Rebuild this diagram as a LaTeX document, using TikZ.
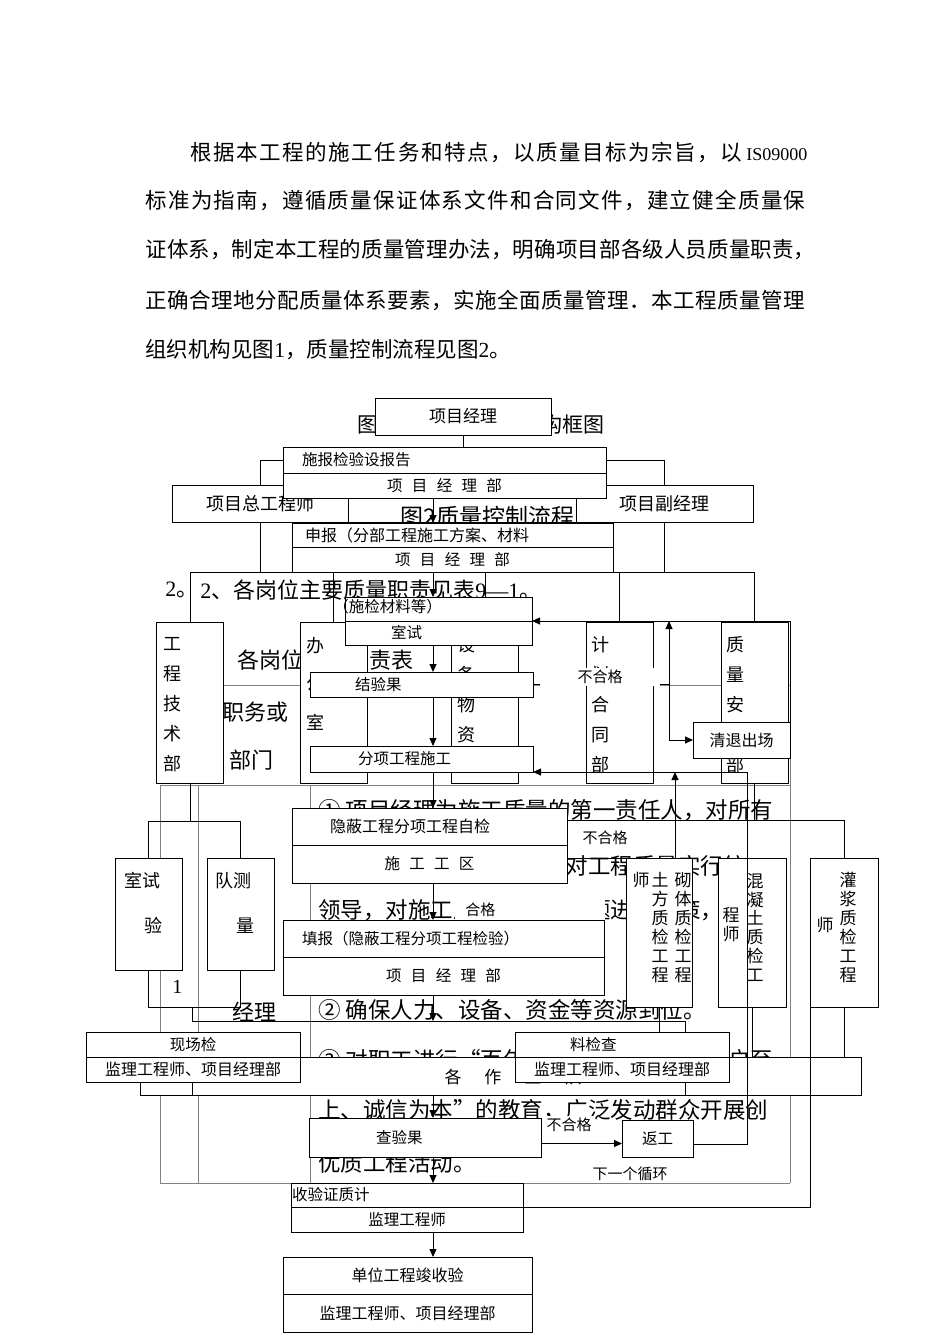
\documentclass[tikz,border=0pt]{standalone}
\usepackage{fontspec}
\setmainfont{Noto Sans CJK SC}
\newfontfamily\rmlat{Liberation Serif}
\usetikzlibrary{arrows.meta, positioning}
\ExplSyntaxOn
\NewDocumentCommand \spreadto { m m }
  { \hbox_to_wd:nn {#1} { \tl_map_inline:nn {#2} { ##1 \hfil } \unskip } }
\ExplSyntaxOff
\newcommand\fs[1]{\fontsize{#1}{#1}\selectfont}
\newcommand\fsb[2]{\fontsize{#1}{#2}\selectfont}
\newcommand\kg{\hspace{0.6em}}
\tikzset{
  box/.style={draw, fill=white, line width=0.9pt, inner sep=0pt, outer sep=0pt},
  fb/.style={box, font=\fs{15.5}},
  dept/.style={box, minimum width=67pt, minimum height=161pt},
  lbl/.style={fill=white, inner sep=2pt, font=\fs{15}},
  txt/.style={inner sep=0pt, anchor=west},
  vtxt/.style={inner sep=0pt, align=center},
  arr/.style={-{Triangle[length=8pt,width=7pt]}},
  tbl/.style={gray, line width=0.8pt},
}
\begin{document}
\begin{tikzpicture}[x=1pt, y=-1pt, line width=0.9pt]
\useasboundingbox (0,0) rectangle (950,1344);

% text above the charts
\begin{scope}[font=\fs{21.5}]
\node[txt] (p1) at (190,152) {\spreadto{552pt}{根据本工程的施工任务和特点，以质量目标为宗旨，以}\hspace{4pt}{\rmlat\fs{18}IS09000}};
\node[txt] (p2) at (145,200) {\spreadto{660pt}{标准为指南，遵循质量保证体系文件和合同文件，建立健全质量保}};
\node[txt] (p3) at (145,250) {\spreadto{670pt}{证体系，制定本工程的质量管理办法，明确项目部各级人员质量职责，}};
\node[txt] (p4) at (145,300) {\spreadto{660pt}{正确合理地分配质量体系要素，实施全面质量管理．本工程质量管理}};
\node[txt] (p5) at (145,350) {组织机构见图{\rmlat 1}，质量控制流程见图{\rmlat 2}。};
\end{scope}

% table 9-1 behind
\draw[tbl] (224,685) -- (790,685);
\draw[tbl] (160,785) -- (790,785);
\draw[tbl] (160,1183) -- (790,1183);
\foreach \tx in {160,198,310}
  \draw[tbl] (\tx,785) -- (\tx,1183);
\draw[tbl] (790,685) -- (790,1183);
\node[txt, font=\fs{22}] (s1) at (165,590) {{\rmlat 2}。};
\node[txt, font=\fs{22}] (s2) at (200,590) {{\rmlat 2}、各岗位主要质量职责见表{\rmlat 9—1}。};
\node[txt, font=\fs{22}] (tt1) at (237,660) {各岗位质量职责表};
\node[txt, font=\fs{22}] (tt2) at (222,712) {职务或};
\node[txt, font=\fs{22}] (tt3) at (229,760) {部门};
\node[txt, font=\fs{22}] (tt4) at (232,1012) {经理};
\node[txt, font=\rmlat\fs{20}] (tt5) at (172,987) {1};
\foreach \ty/\tl [count=\i] in {
  810/{① 项目经理为施工质量的第一责任人，对所有},
  866/{参与施工的人员负全责，对工程质量实行统一},
  910/{领导，对施工质量的重大问题进行决策，},
  1010/{② 确保人力、设备、资金等资源到位。},
  1060/{③ 对职工进行“百年大计，质量第一、用户至},
  1110/{上、诚信为本”的教育，广泛发动群众开展创},
  1163/{优质工程活动。}}
  \node[txt, font=\fs{22.5}] (d\i) at (318,\ty) {\tl};

% figure 1
\node[txt, font=\fs{21}] (t1) at (357,424) {图1 质量管理组织机构框图};
\node[box, minimum width=176pt, minimum height=37pt, font=\fs{17}] (pm) at (463,416.5) {项目经理};
\node[box, minimum width=176pt, minimum height=37pt, font=\fs{18}] (zgc) at (260,503.5) {项目总工程师};
\node[box, minimum width=228pt, minimum height=37pt] (zj) at (462,503.5) {};
\node[box, minimum width=177pt, minimum height=37pt, font=\fs{18}] (fjl) at (664.5,503.5) {项目副经理};
\coordinate (o1) at (463,460);
\draw (pm) -- (o1);
\draw (zgc.north) |- (o1) -| (fjl.north);

\node[dept] (gjb) at (190,702.5) {};
\node[dept] (bgs) at (333.5,702.5) {};
\node[dept] (sbw) at (485,702.5) {};
\node[dept] (jht) at (619.5,702.5) {};
\node[dept] (zla) at (754.5,702.5) {};
\node[vtxt, font=\fsb{18}{30}] (gjbt) at (172,705) {工\\程\\技\\术\\部};
\node[vtxt, font=\fsb{18}{38.5}] (bgst) at (315,683.5) {办\\公\\室};
\node[vtxt, font=\fsb{18}{30}] (sbwt) at (466,705) {设\\备\\物\\资\\部};
\node[vtxt, font=\fsb{18}{30}] (jhtt) at (600,705) {计\\划\\合\\同\\部};
\node[vtxt, font=\fsb{18}{30}] (zlat) at (735,705) {质\\量\\安\\全\\部};
\coordinate (o2) at (462,572);
\draw (zgc.south) -- (zgc.south |- o2);
\draw (fjl.south) -- (fjl.south |- o2);
\draw (gjb.north) |- (o2) -| (zla.north);
\foreach \d in {bgs,sbw,jht}
  \draw (\d.north) -- (\d.north |- o2);

\node[box, minimum width=67pt, minimum height=112pt] (syz) at (148.5,914) {};
\node[box, minimum width=67pt, minimum height=112pt] (clj) at (240.5,914) {};
\node[vtxt, font=\fs{18}] (syzt1) at (142,881) {室试};
\node[vtxt, font=\fs{18}] (syzt2) at (153,926) {验};
\node[vtxt, font=\fs{18}] (cljt1) at (233,881) {队测};
\node[vtxt, font=\fs{18}] (cljt2) at (245,926) {量};
\coordinate (o3) at (190,821);
\draw (gjb.south) -- (o3);
\draw (syz.north) |- (o3) -| (clj.north);

\node[box, minimum width=66pt, minimum height=149pt] (tfz) at (659,932.5) {};
\node[box, minimum width=68pt, minimum height=149pt] (hnt) at (752,932.5) {};
\node[box, minimum width=68pt, minimum height=149pt] (gjz) at (844,932.5) {};
\node[vtxt, font=\fsb{17}{19}] (tft1) at (641,880) {师};
\node[vtxt, font=\fsb{17}{19}] (tft2) at (660,927.5) {土\\方\\质\\检\\工\\程};
\node[vtxt, font=\fsb{17}{19}] (tft3) at (683,927.5) {砌\\体\\质\\检\\工\\程};
\node[vtxt, font=\fsb{17}{19}] (hntt1) at (731,925) {程\\师};
\node[vtxt, font=\fsb{17}{19}] (hntt2) at (755,927.5) {混\\凝\\土\\质\\检\\工};
\node[vtxt, font=\fsb{17}{19}] (gjzt1) at (825,925) {师};
\node[vtxt, font=\fsb{17}{19}] (gjzt2) at (848,927.5) {灌\\浆\\质\\检\\工\\程};
\coordinate (o4) at (754.5,820);
\coordinate (o5) at (567,820);
\draw (zla.south) -- (o4);
\draw (o5) -| (gjz.north);

\node[box, minimum width=721pt, minimum height=38pt] (zyd) at (500.5,1076) {};
\node[vtxt, font=\fs{17}] (zydt) at (513,1077) {各\hspace{23pt}作\hspace{23pt}业\hspace{23pt}队};
\coordinate (o6) at (192,1007);
\draw (syz.south) |- (o6) -| (clj.south);
\draw (hnt.south) -- (hnt.south |- zyd.north);
\draw (gjz.south) -- (gjz.south |- zyd.north);

% figure 2
\node[txt, font=\fs{23}] (t2) at (400,517) {图2质量控制流程};
\coordinate (ax) at (433,0);
\node[fb, minimum height=26pt, text width=285pt, align=left, inner xsep=19pt] (f1a) at (444.5,460) {施报检验设报告};
\node[fb, minimum width=323pt, minimum height=25pt, below=0pt of f1a] (f1b) {项\kg 目\kg 经\kg 理\kg 部};
\node[fb, font=\fs{16}, minimum height=24pt, text width=295pt, align=left, inner xsep=13pt] (f2a) at (452.5,535) {申报（分部工程施工方案、材料};
\node[fb, minimum width=321pt, minimum height=25pt, below=0pt of f2a] (f2b) {项\kg 目\kg 经\kg 理\kg 部};
\node[fb, minimum width=187pt, minimum height=24pt] (f3a) at (438.5,609) {};
\node[txt, font=\fs{15.5}] (f3t) at (333,607) {（施检材料等）};
\node[fb, minimum height=24pt, text width=95pt, align=left, inner xsep=46pt, below=0pt of f3a] (f3b) {室试};
\node[fb, minimum height=25pt, text width=133pt, align=left, inner xsep=45pt] (f4) at (421.5,684.5) {结验果};
\node[fb, minimum height=26pt, text width=127pt, align=left, inner xsep=48pt] (f5) at (421.5,759) {分项工程施工};
\node[fb, font=\fs{16}, minimum height=37pt, text width=199pt, align=left, inner xsep=38pt] (f6a) at (429.5,826.5) {隐蔽工程分项工程自检};
\node[fb, minimum width=275pt, minimum height=38pt, below=0pt of f6a] (f6b) {施\kg 工\kg 工\kg 区};
\node[lbl, anchor=west, text width=130pt, align=left, inner xsep=10pt, minimum height=24pt] (hg) at (455,910) {合格};
\node[fb, minimum height=37pt, text width=283pt, align=left, inner xsep=19pt] (f7a) at (443.5,938.5) {填报（隐蔽工程分项工程检验）};
\node[fb, minimum width=321pt, minimum height=38pt, below=0pt of f7a] (f7b) {项\kg 目\kg 经\kg 理\kg 部};
\node[box, font=\fs{16}, minimum width=97pt, minimum height=36pt] (qt) at (741.5,740) {清退出场};

\draw[arr] (f1b.south -| ax) -- (f2a.north -| ax);
\draw[arr] (f2b.south -| ax) -- (f3a.north -| ax);
\draw[arr] (f3b.south -| ax) -- (f4.north -| ax);
\draw[arr] (f4.south -| ax) -- (f5.north -| ax);
\draw[arr] (f5.south -| ax) -- (f6a.north -| ax);
\draw[arr] (f6b.south -| ax) -- (f7a.north -| ax);

% unqualified material loop
\coordinate (q7) at (669,684.5);
\draw (f4.east) -- (q7);
\draw[arr] (q7) -- (q7 |- f3b.north);
\draw[arr] (q7) |- (qt.west);
\draw[arr] (qt.north east) |- (f3a.south east);
\node[lbl, minimum width=120pt] (bh1) at (600,677) {不合格};

% self check loop
\coordinate (q6) at (675,858);
\draw[arr] (f6b.north east |- q6) -- (q6) -- (q6 |- f5.south);
\node[lbl] (bh2) at (605,838) {不合格};

% site and material checks
\coordinate (q1) at (433,1021);
\coordinate (q2) at (685,1021);
\coordinate (q3) at (192,1095);
\coordinate (q4) at (685,1095);
\draw[arr] (f7b.south -| ax) -- (q1);
\draw (o6) -- (o6 |- q1) -- (q2) -- (q4) -- (q3);
\node[fb, minimum width=214pt, minimum height=25pt] (xc1) at (193,1044.5) {现场检};
\node[fb, font=\fs{16}, minimum width=214pt, minimum height=25pt, below=0pt of xc1] (xc2) {监理工程师、项目经理部};
\node[fb, minimum height=25pt, text width=104pt, align=left, inner xsep=55pt] (lj1) at (622,1044.5) {料检查};
\node[fb, font=\fs{16}, minimum width=214pt, minimum height=25pt, below=0pt of lj1] (lj2) {监理工程师、项目经理部};
\draw (xc2.south -| q3) -- (q3);
\draw (tfz.south) -- (tfz.south |- lj1.north);

% result check
\node[fb, minimum height=39pt, text width=98pt, align=left, inner xsep=67pt] (f8) at (425,1137.5) {查验果};
\node[fb, minimum width=71pt, minimum height=37pt] (fg) at (657.5,1138.5) {返工};
\draw[arr] (q4 -| ax) -- (f8.north -| ax);
\draw[arr] ([yshift=-6pt]f8.east) -- ([yshift=-6pt]f8.east -| fg.west);
\node[lbl] (bh3) at (569,1125) {不合格};
\coordinate (q5) at (747,772);
\draw[arr] ([yshift=-6pt]fg.east) -| (q5) -- (f5.south east);
\node[lbl, minimum width=160pt] (xyg) at (630,1174) {下一个循环};

% acceptance
\node[fb, minimum height=24pt, text width=230pt, align=left, inner xsep=1pt] (f9a) at (407,1195) {收验证质计};
\node[fb, minimum width=232pt, minimum height=25pt, below=0pt of f9a] (f9b) {监理工程师};
\draw (gjz.south west) |- (f9a.south east);
\draw[arr] (f8.south -| ax) -- (f9a.north -| ax);
\node[fb, font=\fs{16}, minimum width=249pt, minimum height=37pt] (f10a) at (407.5,1275.5) {单位工程竣收验};
\node[fb, font=\fs{16}, minimum width=249pt, minimum height=38pt, below=0pt of f10a] (f10b) {监理工程师、项目经理部};
\draw[arr] (f9b.south -| ax) -- (f10a.north -| ax);
\end{tikzpicture}
\end{document}
